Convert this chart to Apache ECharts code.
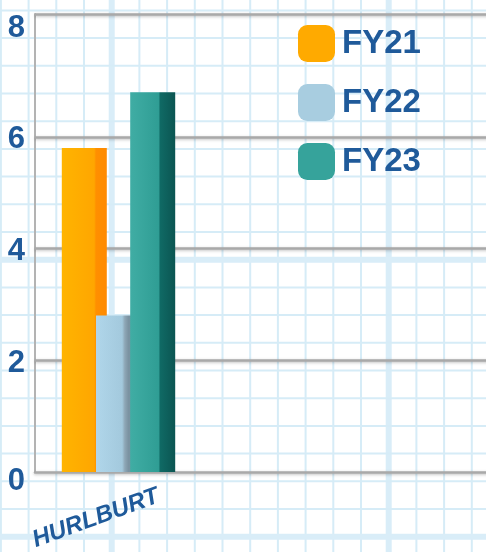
<!DOCTYPE html>
<html>
<head>
<meta charset="utf-8">
<style>
  html, body { margin: 0; padding: 0; background: #ffffff; }
  #chart { width: 486px; height: 552px; }
</style>
<script src="https://cdn.jsdelivr.net/npm/echarts@6/dist/echarts.min.js"></script>
</head>
<body>
<div id="chart"></div>
<script>
// Bases and fiscal-year values
const categories = ['HURLBURT', '', ''];
const fy21 = [5.8];
const fy22 = [2.8];
const fy23 = [6.8];
const seriesNames = ['FY21', 'FY22', 'FY23'];
const yTicks = [0, 2, 4, 6, 8];
// Horizontal rules across the plot; the last one is the top edge of the frame
const ruleValues = [2, 4, 6, 8.2];
const yTop = 8.2;

const TEXT_BLUE = '#1f5a9a';
const FONT = "'Liberation Sans', Arial, sans-serif";

// Shaded faces give each column a boxy look: lit front, darker right side.
function faceGradient(stops) {
  return new echarts.graphic.LinearGradient(0, 0, 1, 0,
    stops.map(s => ({ offset: s[0], color: s[1] })));
}
const orangeFill = faceGradient([[0, '#ffb400'], [0.72, '#ffa600'], [0.76, '#ff8f00'], [1, '#ff8a00']]);
const blueFill = faceGradient([[0, '#b0d6ea'], [0.58, '#a3c9dd'], [0.64, '#8ea7b6'], [0.72, '#7b93a2'], [1, '#7b93a2']]);
const tealFill = faceGradient([[0, '#40ada4'], [0.64, '#2f9d94'], [0.66, '#106a65'], [1, '#0b5552']]);

// Graph-paper backdrop
const paper = [];
const step = 27.7;
for (let k = 0; k * step + 0.9 < 486; k++) {
  const x = 0.9 + k * step;
  const thick = (k % 10) === 4;
  paper.push({
    type: 'line', z: -10, silent: true,
    shape: { x1: x, y1: 0, x2: x, y2: 552 },
    style: { stroke: thick ? '#d9edf8' : '#d6ecf7', lineWidth: thick ? 6 : 2 }
  });
}
for (let k = 0; k * step + 10.4 < 552; k++) {
  const y = 10.4 + k * step;
  const thick = (k % 10) === 9;
  paper.push({
    type: 'line', z: -10, silent: true,
    shape: { x1: 0, y1: y, x2: 486, y2: y },
    style: { stroke: thick ? '#d9edf8' : '#d6ecf7', lineWidth: thick ? 6 : 2 }
  });
}

const chart = echarts.init(document.getElementById('chart'), null, { renderer: 'canvas' });

const barCommon = {
  type: 'bar',
  barWidth: 45,
  barGap: '-24%',
  emphasis: { disabled: true }
};

const ruleStyle = {
  color: '#a9a9a9', width: 2.5, type: 'solid',
  shadowColor: 'rgba(0,0,0,0.25)', shadowBlur: 3, shadowOffsetY: 1
};

chart.setOption({
  animation: false,
  backgroundColor: '#ffffff',
  graphic: paper,
  grid: {
    left: 35, top: 14, width: 501, height: 458,
    containLabel: false, outerBoundsMode: 'none'
  },
  legend: {
    orient: 'vertical',
    left: 298,
    top: 25,
    padding: 0,
    itemWidth: 37,
    itemHeight: 37,
    itemGap: 22,
    icon: 'roundRect',
    selectedMode: false,
    textStyle: {
      color: TEXT_BLUE, fontSize: 33, fontWeight: 'bold',
      fontFamily: FONT, padding: [4, 0, 0, 2]
    },
    data: [
      { name: seriesNames[0], itemStyle: { color: '#ffaa00' } },
      { name: seriesNames[1], itemStyle: { color: '#a8cde0' } },
      { name: seriesNames[2], itemStyle: { color: '#36a39b' } }
    ]
  },
  xAxis: {
    type: 'category',
    data: categories,
    axisTick: { show: false },
    axisLine: { lineStyle: ruleStyle },
    axisLabel: {
      interval: 0,
      rotate: 20,
      align: 'center',
      verticalAlign: 'middle',
      margin: 38,
      padding: [0, 48, 0, 0],
      color: TEXT_BLUE,
      fontSize: 24,
      fontWeight: 'bold',
      fontStyle: 'italic',
      fontFamily: FONT
    }
  },
  yAxis: {
    type: 'value',
    min: yTicks[0],
    max: yTop,
    interval: 2,
    axisLine: { show: true, lineStyle: { color: '#b3b3b3', width: 2 } },
    axisTick: { show: false },
    splitLine: { show: false },
    axisLabel: {
      margin: 10,
      showMaxLabel: false,
      color: TEXT_BLUE,
      fontSize: 31,
      fontWeight: 'bold',
      fontFamily: FONT,
      formatter: v => yTicks.indexOf(v) < 0 ? '' : (v === 0 ? '{bot|0}' : '{n|' + v + '}'),
      rich: {
        n: { fontSize: 31, fontWeight: 'bold', color: TEXT_BLUE, fontFamily: FONT, padding: [6, 0, 0, 0] },
        bot: { fontSize: 31, fontWeight: 'bold', color: TEXT_BLUE, fontFamily: FONT, padding: [18, 0, 0, 0] }
      }
    }
  },
  series: [
    Object.assign({
      name: seriesNames[0], data: fy21, itemStyle: { color: orangeFill },
      markLine: {
        silent: true, symbol: 'none', z: 1,
        label: { show: false },
        lineStyle: ruleStyle,
        data: ruleValues.map(v => ({ yAxis: v }))
      }
    }, barCommon),
    Object.assign({ name: seriesNames[1], data: fy22, itemStyle: { color: blueFill } }, barCommon),
    Object.assign({ name: seriesNames[2], data: fy23, itemStyle: { color: tealFill } }, barCommon)
  ]
});
</script>
</body>
</html>
